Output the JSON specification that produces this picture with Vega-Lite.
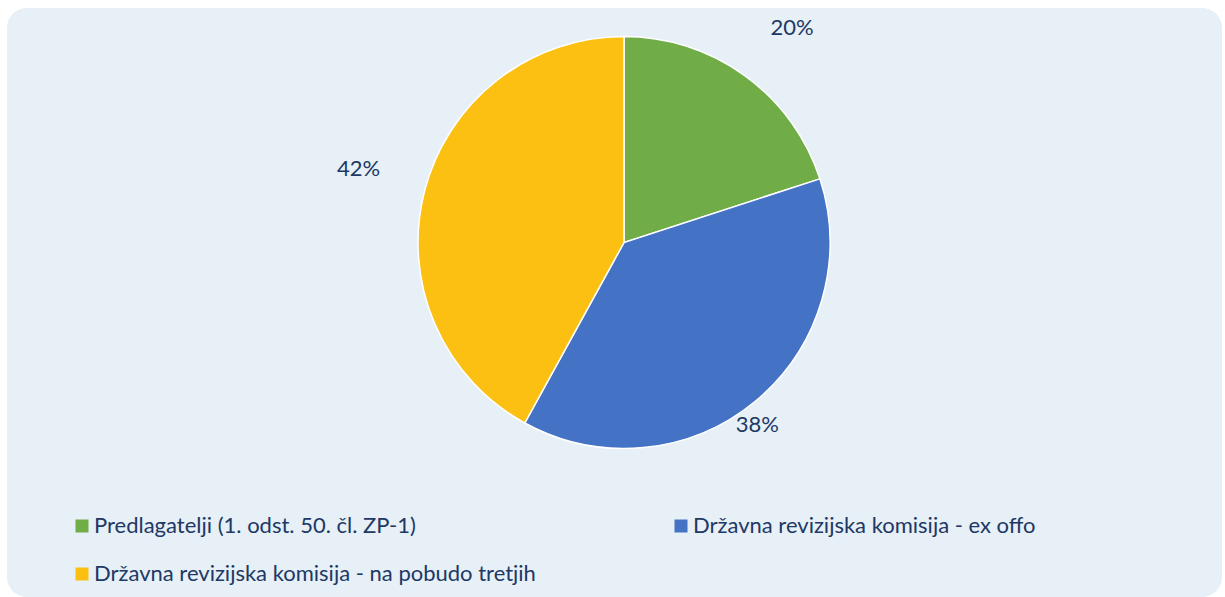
{
  "$schema": "https://vega.github.io/schema/vega-lite/v6.json",
  "width": 1215,
  "height": 589,
  "autosize": "none",
  "padding": {"left": 7, "top": 8, "right": 3, "bottom": 0},
  "background": "white",
  "view": {"fill": "#E7EFF7", "stroke": null, "cornerRadius": 20},
  "config": {
    "font": "Lato"
  },
  "data": {
    "values": [
      {"category": "Predlagatelji (1. odst. 50. čl. ZP-1)", "share": 20, "rank": 1, "label": "20%"},
      {"category": "Državna revizijska komisija - ex offo", "share": 38, "rank": 2, "label": "38%"},
      {"category": "Državna revizijska komisija - na pobudo tretjih", "share": 42, "rank": 3, "label": "42%"}
    ]
  },
  "layer": [
    {
      "mark": {"type": "arc", "x": 617, "y": 234.5, "radius": 206, "stroke": "white", "strokeWidth": 1.5},
      "encoding": {
        "theta": {"field": "share", "type": "quantitative", "stack": true},
        "order": {"field": "rank", "type": "quantitative"},
        "color": {
          "field": "category",
          "type": "nominal",
          "scale": {
            "domain": ["Predlagatelji (1. odst. 50. čl. ZP-1)", "Državna revizijska komisija - ex offo", "Državna revizijska komisija - na pobudo tretjih"],
            "range": ["#70AD47", "#4472C4", "#FBC012"]
          },
          "legend": {
            "orient": "none",
            "legendX": 64,
            "legendY": 507,
            "direction": "horizontal",
            "columns": 2,
            "title": null,
            "symbolType": "square",
            "symbolSize": 169,
            "symbolStrokeWidth": 0,
            "labelFontSize": 22,
            "labelColor": "#203864",
            "labelOffset": 1,
            "labelLimit": 600,
            "columnPadding": 134,
            "rowPadding": 26
          }
        }
      }
    },
    {
      "mark": {"type": "text", "x": 617, "y": 234.5, "radius": 274, "dx": 7, "dy": 7, "fontSize": 22, "color": "#203864", "align": "center", "baseline": "middle"},
      "encoding": {
        "theta": {"field": "share", "type": "quantitative", "stack": true},
        "order": {"field": "rank", "type": "quantitative"},
        "text": {"field": "label", "type": "nominal"},
        "opacity": {"condition": {"test": "datum.rank != 1", "value": 0}, "value": 1}
      }
    },
    {
      "mark": {"type": "text", "x": 617, "y": 234.5, "radius": 225, "dx": -10, "dy": 9, "fontSize": 22, "color": "#203864", "align": "center", "baseline": "middle"},
      "encoding": {
        "theta": {"field": "share", "type": "quantitative", "stack": true},
        "order": {"field": "rank", "type": "quantitative"},
        "text": {"field": "label", "type": "nominal"},
        "opacity": {"condition": {"test": "datum.rank != 2", "value": 0}, "value": 1}
      }
    },
    {
      "mark": {"type": "text", "x": 617, "y": 234.5, "radius": 274, "dx": 0, "dy": -5, "fontSize": 22, "color": "#203864", "align": "center", "baseline": "middle"},
      "encoding": {
        "theta": {"field": "share", "type": "quantitative", "stack": true},
        "order": {"field": "rank", "type": "quantitative"},
        "text": {"field": "label", "type": "nominal"},
        "opacity": {"condition": {"test": "datum.rank != 3", "value": 0}, "value": 1}
      }
    }
  ]
}
